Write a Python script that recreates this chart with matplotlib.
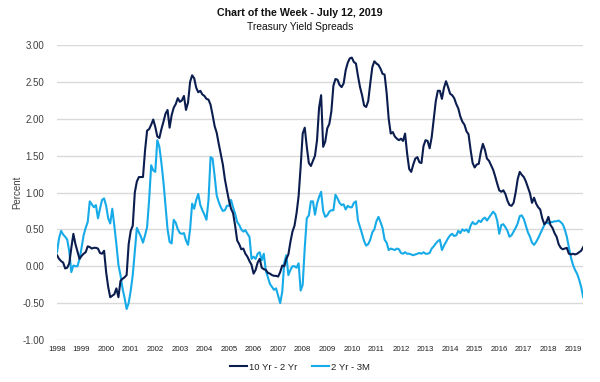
import numpy as np
import matplotlib
matplotlib.use("Agg")
import matplotlib.pyplot as plt

plt.rcParams['font.family'] = ['Liberation Sans', 'DejaVu Sans']

# monthly values, Jan 1998 .. Jun 2019 (one row per year)
spread_10y_2y = [
    0.15, 0.10, 0.07, 0.05, -0.03, -0.02, 0.04, 0.25, 0.44, 0.30, 0.20, 0.10,   # 1998
    0.14, 0.17, 0.19, 0.27, 0.26, 0.24, 0.25, 0.25, 0.24, 0.18, 0.17, 0.21,     # 1999
    -0.08, -0.28, -0.42, -0.40, -0.38, -0.30, -0.42, -0.20, -0.17, -0.15, -0.12, 0.30,  # 2000
    0.48, 0.55, 1.00, 1.15, 1.21, 1.21, 1.21, 1.57, 1.84, 1.86, 1.92, 1.99,     # 2001
    1.89, 1.76, 1.74, 1.86, 1.96, 2.07, 2.12, 1.88, 2.05, 2.15, 2.20, 2.28,     # 2002
    2.23, 2.25, 2.31, 2.12, 2.22, 2.50, 2.59, 2.55, 2.42, 2.36, 2.38, 2.33,     # 2003
    2.31, 2.27, 2.26, 2.19, 2.05, 1.90, 1.81, 1.66, 1.52, 1.38, 1.18, 1.03,     # 2004
    0.89, 0.78, 0.72, 0.55, 0.35, 0.30, 0.23, 0.24, 0.17, 0.13, 0.07, 0.02,     # 2005
    -0.10, -0.05, 0.05, 0.10, -0.02, -0.04, -0.05, -0.09, -0.10, -0.12, -0.13, -0.13,  # 2006
    -0.14, -0.08, 0.01, 0.00, 0.10, 0.16, 0.33, 0.47, 0.55, 0.72, 0.95, 1.35,   # 2007
    1.80, 1.88, 1.62, 1.40, 1.36, 1.43, 1.50, 1.71, 2.15, 2.32, 1.62, 1.69,     # 2008
    1.87, 1.93, 2.10, 2.45, 2.54, 2.53, 2.46, 2.43, 2.48, 2.66, 2.76, 2.82,     # 2009
    2.83, 2.77, 2.75, 2.58, 2.43, 2.32, 2.18, 2.16, 2.24, 2.48, 2.70, 2.78,     # 2010
    2.75, 2.73, 2.68, 2.61, 2.60, 2.35, 2.00, 1.80, 1.82, 1.76, 1.73, 1.71,     # 2011
    1.73, 1.70, 1.80, 1.53, 1.32, 1.28, 1.38, 1.46, 1.48, 1.41, 1.40, 1.63,     # 2012
    1.71, 1.70, 1.60, 1.75, 2.00, 2.24, 2.38, 2.38, 2.27, 2.42, 2.51, 2.43,     # 2013
    2.34, 2.32, 2.28, 2.20, 2.14, 2.03, 1.96, 1.92, 1.83, 1.79, 1.58, 1.40,     # 2014
    1.34, 1.38, 1.39, 1.55, 1.66, 1.58, 1.46, 1.43, 1.37, 1.31, 1.22, 1.12,     # 2015
    1.03, 1.01, 1.03, 0.98, 0.89, 0.83, 0.82, 0.86, 1.00, 1.18, 1.28, 1.24,     # 2016
    1.21, 1.15, 1.07, 0.99, 0.86, 0.93, 0.85, 0.80, 0.77, 0.65, 0.57, 0.60,     # 2017
    0.67, 0.56, 0.52, 0.45, 0.40, 0.30, 0.25, 0.23, 0.24, 0.25, 0.17, 0.16,     # 2018
    0.17, 0.16, 0.17, 0.19, 0.21, 0.26,                                         # 2019
]

spread_2y_3m = [
    0.19, 0.38, 0.48, 0.43, 0.40, 0.36, 0.20, -0.08, 0.01, 0.00, 0.00, 0.10,    # 1998
    0.25, 0.42, 0.52, 0.60, 0.88, 0.84, 0.80, 0.83, 0.65, 0.78, 0.90, 0.92,     # 1999
    0.82, 0.65, 0.58, 0.78, 0.55, 0.30, 0.02, -0.12, -0.30, -0.43, -0.58, -0.50,  # 2000
    -0.33, -0.12, 0.20, 0.52, 0.46, 0.40, 0.32, 0.42, 0.53, 0.90, 1.37, 1.30,   # 2001
    1.28, 1.71, 1.62, 1.40, 1.14, 0.82, 0.50, 0.33, 0.31, 0.63, 0.59, 0.50,     # 2002
    0.45, 0.44, 0.45, 0.35, 0.29, 0.50, 0.85, 0.78, 0.90, 0.98, 0.83, 0.76,     # 2003
    0.70, 0.63, 0.90, 1.48, 1.46, 1.22, 0.96, 0.87, 0.80, 0.75, 0.76, 0.82,     # 2004
    0.82, 0.90, 0.80, 0.71, 0.60, 0.56, 0.50, 0.47, 0.49, 0.44, 0.40, 0.10,     # 2005
    0.13, 0.10, 0.17, 0.19, 0.08, 0.17, -0.06, -0.15, -0.24, -0.28, -0.32, -0.30,  # 2006
    -0.40, -0.50, -0.35, 0.05, 0.15, -0.12, -0.05, 0.00, 0.00, -0.02, 0.04, -0.33,  # 2007
    -0.25, 0.25, 0.65, 0.69, 0.88, 0.88, 0.70, 0.85, 0.94, 1.01, 0.75, 0.67,    # 2008
    0.69, 0.74, 0.76, 0.76, 0.97, 0.92, 0.86, 0.83, 0.84, 0.77, 0.82, 0.80,     # 2009
    0.80, 0.86, 0.88, 0.62, 0.53, 0.44, 0.34, 0.28, 0.30, 0.36, 0.46, 0.50,     # 2010
    0.61, 0.67, 0.60, 0.52, 0.36, 0.32, 0.22, 0.24, 0.23, 0.22, 0.24, 0.23,     # 2011
    0.18, 0.17, 0.19, 0.17, 0.17, 0.16, 0.15, 0.16, 0.17, 0.18, 0.17, 0.19,     # 2012
    0.17, 0.17, 0.18, 0.24, 0.27, 0.31, 0.34, 0.36, 0.22, 0.28, 0.33, 0.38,     # 2013
    0.42, 0.44, 0.41, 0.42, 0.48, 0.45, 0.50, 0.48, 0.50, 0.46, 0.55, 0.60,     # 2014
    0.57, 0.58, 0.62, 0.60, 0.64, 0.66, 0.62, 0.66, 0.70, 0.74, 0.71, 0.62,     # 2015
    0.44, 0.56, 0.57, 0.53, 0.48, 0.40, 0.42, 0.47, 0.52, 0.58, 0.68, 0.69,     # 2016
    0.64, 0.55, 0.46, 0.40, 0.32, 0.29, 0.33, 0.38, 0.44, 0.50, 0.56, 0.60,     # 2017
    0.58, 0.60, 0.60, 0.61, 0.61, 0.62, 0.60, 0.57, 0.50, 0.40, 0.26, 0.12,     # 2018
    0.02, -0.05, -0.10, -0.18, -0.28, -0.42,                                    # 2019
]

years = list(range(1998, 2020))
y_ticks = [3.0, 2.5, 2.0, 1.5, 1.0, 0.5, 0.0, -0.5, -1.0]

dark_col = '#0b1d4f'
light_col = '#16abe8'
text_col = '#404040'
grid_col = '#d9d9d9'

t = 1998 + np.arange(len(spread_10y_2y)) / 12.0

fig = plt.figure(figsize=(6, 3.82), dpi=100)
ax = fig.add_axes([0.095, 0.110, 0.877, 0.772])

ax.plot(t, spread_10y_2y, color=dark_col, linewidth=1.5, label='10 Yr - 2 Yr', zorder=3)
ax.plot(t, spread_2y_3m, color=light_col, linewidth=1.5, label='2 Yr - 3M', zorder=2)

ax.set_xlim(1998, t[-1])
ax.set_ylim(-1.0, 3.0)
ax.set_yticks(y_ticks)
ax.set_yticklabels([f'{v:.2f}' for v in y_ticks])
ax.set_xticks(years)
ax.set_xticklabels([str(y) for y in years])

# grid only, no frame
ax.yaxis.grid(True, color=grid_col, linewidth=1.0)
ax.set_axisbelow(True)
for s in ax.spines.values():
    s.set_visible(False)
ax.tick_params(axis='y', length=0, pad=9, labelsize=7, labelcolor=text_col)
ax.tick_params(axis='x', length=0, pad=4, labelsize=5.7, labelcolor='#202020')

fig.text(17 / 600, 1 - 192 / 382, 'Percent', rotation=90, ha='center', va='center',
         fontsize=7, color=text_col)

fig.text(0.5, 1 - 13.5 / 382, 'Chart of the Week - July 12, 2019', ha='center', va='center',
         fontsize=7.7, fontweight='bold', color='#111111')
fig.text(0.5, 1 - 27 / 382, 'Treasury Yield Spreads', ha='center', va='center',
         fontsize=7.4, color='#111111')

fig.legend(loc='center', bbox_to_anchor=(0.5, 1 - 367 / 382), ncol=2, frameon=False,
           fontsize=6.8, handlelength=1.8, handletextpad=0.15, columnspacing=1.6,
           labelcolor='#202020')

fig.savefig('out.png', dpi=100)
